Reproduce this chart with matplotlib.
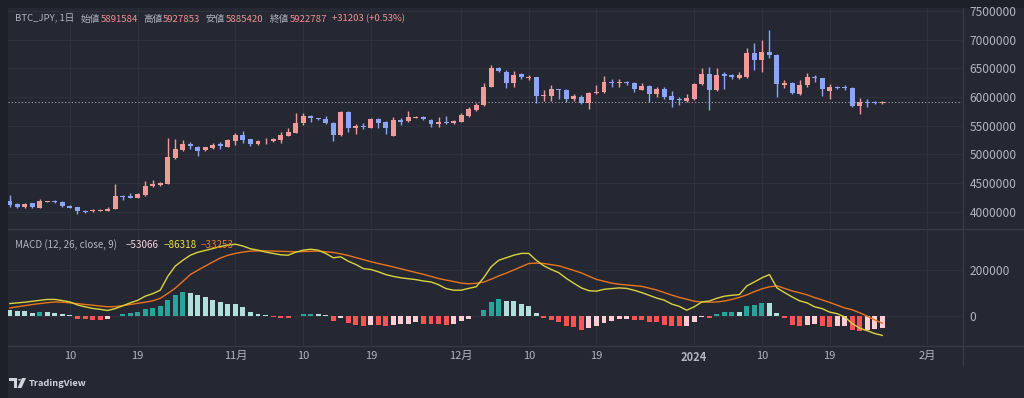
import numpy as np
import pandas as pd
import matplotlib
matplotlib.use("Agg")
import matplotlib.pyplot as plt
from matplotlib.patches import Rectangle, Polygon, Circle
from matplotlib.lines import Line2D

plt.rcParams['font.family'] = ['Noto Sans CJK JP', 'DejaVu Sans']

# ---------------- data ----------------
dates = pd.date_range('2023-10-02', '2024-01-26', freq='D')

opens = [4190000, 4143000, 4091000, 4149000, 4074000, 4172000, 4184000, 4172000, 4103000, 4080000,
         4016000, 4010000, 4016000, 4022000, 4051000, 4283000, 4271000, 4248000, 4294000, 4451000,
         4469000, 4486000, 4933000, 5078000, 5177000, 5137000, 5078000, 5113000, 5189000, 5137000,
         5241000, 5334000, 5264000, 5183000, 5229000, 5235000, 5253000, 5328000, 5380000, 5555000,
         5671000, 5630000, 5613000, 5543000, 5340000, 5746000, 5456000, 5497000, 5468000, 5613000,
         5560000, 5328000, 5601000, 5584000, 5642000, 5653000, 5601000, 5537000, 5572000, 5549000,
         5572000, 5676000, 5775000, 5862000, 6182000, 6513000, 6443000, 6240000, 6402000, 6338000,
         6344000, 6013000, 6025000, 6135000, 6124000, 5961000, 6008000, 5891000, 6066000, 6083000,
         6269000, 6240000, 6269000, 6246000, 6130000, 6199000, 6048000, 6141000, 6019000, 5967000,
         5932000, 5967000, 6223000, 6397000, 6124000, 6408000, 6385000, 6339000, 6356000, 6763000,
         6646000, 6792000, 6734000, 6211000, 6240000, 6054000, 6211000, 6356000, 6327000, 6112000,
         6170000, 6170000, 6159000, 5845000, 5920000, 5920000, 5891584]

highs = [4294000, 4150000, 4161000, 4161000, 4225000, 4196000, 4213000, 4184000, 4120000, 4091000,
         4033000, 4045000, 4051000, 4085000, 4492000, 4294000, 4323000, 4323000, 4538000, 4556000,
         4527000, 5293000, 5264000, 5253000, 5224000, 5148000, 5137000, 5195000, 5224000, 5264000,
         5380000, 5409000, 5276000, 5253000, 5282000, 5287000, 5398000, 5456000, 5729000, 5729000,
         5688000, 5642000, 5671000, 5572000, 5758000, 5758000, 5526000, 5543000, 5630000, 5630000,
         5584000, 5659000, 5630000, 5758000, 5671000, 5665000, 5613000, 5653000, 5676000, 5601000,
         5717000, 5833000, 5891000, 6240000, 6559000, 6530000, 6472000, 6455000, 6414000, 6385000,
         6356000, 6124000, 6211000, 6147000, 6135000, 6048000, 6037000, 6095000, 6211000, 6373000,
         6315000, 6315000, 6281000, 6257000, 6240000, 6211000, 6182000, 6182000, 6106000, 6008000,
         6048000, 6240000, 6513000, 6530000, 6501000, 6443000, 6397000, 6443000, 6850000, 6937000,
         6995000, 7169000, 6745000, 6298000, 6257000, 6298000, 6414000, 6385000, 6339000, 6228000,
         6193000, 6211000, 6170000, 5979000, 5961000, 5938000, 5927853]

lows = [4091000, 4062000, 4074000, 4074000, 4068000, 4167000, 4155000, 4085000, 4062000, 3969000,
        3981000, 3998000, 4010000, 4016000, 4045000, 4213000, 4236000, 4236000, 4283000, 4434000,
        4451000, 4480000, 4916000, 5067000, 5090000, 4974000, 5061000, 5102000, 5102000, 5125000,
        5166000, 5206000, 5148000, 5171000, 5183000, 5218000, 5195000, 5322000, 5369000, 5514000,
        5572000, 5601000, 5531000, 5230000, 5328000, 5386000, 5357000, 5444000, 5456000, 5468000,
        5351000, 5316000, 5514000, 5572000, 5630000, 5595000, 5485000, 5473000, 5526000, 5537000,
        5560000, 5659000, 5764000, 5851000, 6170000, 6432000, 6153000, 6182000, 6315000, 6298000,
        5891000, 5932000, 5932000, 5967000, 5920000, 5938000, 5874000, 5793000, 6048000, 6072000,
        6182000, 6182000, 6211000, 6083000, 6118000, 5920000, 6008000, 5967000, 5833000, 5862000,
        5921000, 5955000, 6211000, 5775000, 6112000, 6141000, 6315000, 6315000, 6327000, 6472000,
        6443000, 6676000, 6008000, 6153000, 6048000, 6037000, 6182000, 6269000, 6019000, 5961000,
        6135000, 6124000, 5833000, 5706000, 5833000, 5874000, 5885420]

closes = [4120000, 4091000, 4143000, 4080000, 4184000, 4184000, 4167000, 4097000, 4074000, 4016000,
          4004000, 4027000, 4033000, 4056000, 4277000, 4260000, 4248000, 4306000, 4457000, 4486000,
          4498000, 4962000, 5090000, 5183000, 5148000, 5067000, 5125000, 5171000, 5154000, 5253000,
          5346000, 5253000, 5183000, 5241000, 5241000, 5264000, 5340000, 5398000, 5555000, 5671000,
          5636000, 5613000, 5543000, 5345000, 5746000, 5456000, 5497000, 5479000, 5618000, 5543000,
          5456000, 5595000, 5572000, 5648000, 5659000, 5613000, 5537000, 5572000, 5555000, 5584000,
          5688000, 5787000, 5862000, 6182000, 6501000, 6455000, 6240000, 6385000, 6344000, 6356000,
          6025000, 6037000, 6135000, 6118000, 5961000, 6019000, 5891000, 6077000, 6095000, 6257000,
          6240000, 6269000, 6246000, 6141000, 6199000, 6048000, 6141000, 6008000, 5950000, 5944000,
          5979000, 6223000, 6397000, 6124000, 6385000, 6373000, 6350000, 6385000, 6763000, 6646000,
          6792000, 6734000, 6223000, 6252000, 6066000, 6211000, 6344000, 6327000, 6135000, 6170000,
          6159000, 6159000, 5845000, 5920000, 5903000, 5891000, 5922787]

# MACD (12, 26, close, 9) in thousands of JPY
hist_k = [23, 19, 19, 13, 14.5, 14, 13, 7, 1.5, -13,
          -16, -17.5, -19, -16, -4, 7, 11.6, 17.4, 27.5, 33,
          40.6, 66.7, 88, 101, 100, 91, 80, 68, 58, 52,
          48, 37.7, 16, 7.2, 1.5, -7.2, -10, -10, -3, 7,
          8.7, 7.2, 1.4, -24.6, -11.6, -32, -39, -43.5, -39, -42,
          -45, -39, -36, -35, -30, -35, -36, -36, -39, -35,
          -24.6, -16, -4, 23, 59, 74, 62, 62, 52, 42,
          11.6, -11.6, -20, -30, -45, -49, -61, -54, -46, -32,
          -22, -17, -13, -20, -21, -29, -30, -39, -45, -46,
          -45, -30, -5, -8.7, 7.2, 14.5, 16, 16, 42, 45,
          56.5, 55, 13, -10, -39, -46, -39, -38, -46, -48,
          -46, -45, -64, -65, -61, -59, -53.066]

macd_k = [52, 55, 58, 62, 66, 70, 70, 65, 59, 46,
          38, 31, 27, 22, 30, 42, 55, 66, 84, 95,
          110, 170, 215, 240, 262, 275, 283, 291, 300, 306,
          310, 302, 290, 284, 276, 270, 264, 262, 275, 284,
          288, 284, 270, 251, 255, 236, 222, 204, 200, 190,
          178, 170, 164, 160, 156, 150, 146, 134, 117, 110,
          110, 118, 125, 164, 212, 240, 251, 262, 270, 270,
          240, 216, 200, 186, 161, 140, 120, 108, 106, 114,
          117, 120, 118, 110, 100, 88, 76, 67, 50, 40,
          23, 38, 59, 63, 75, 84, 88, 91, 129, 146,
          164, 178, 120, 100, 81, 64, 55, 38, 30, 15,
          8, -6, -35, -55, -66, -78, -86.318]

signal_k = [33, 38, 43, 48, 52, 56, 59, 58, 55, 52,
            48, 45, 41, 38, 39, 43, 48, 53, 58, 64,
            75, 96, 119, 148, 178, 197, 215, 233, 250, 262,
            270, 276, 280, 281, 281, 280, 279, 278, 277, 278,
            279, 280, 277, 274, 268, 261, 252, 243, 234, 226,
            219, 211, 203, 195, 187, 179, 170, 161, 154, 148,
            141, 138, 140, 145, 158, 172, 184, 198, 212, 226,
            228, 226, 221, 216, 206, 196, 185, 171, 157, 149,
            141, 136, 133, 130, 127, 119, 111, 100, 89, 79,
            71, 62, 59, 58, 59, 63, 70, 79, 90, 104,
            116, 125, 129, 118, 107, 99, 90, 78, 68, 57,
            45, 33, 25, 12, -3, -19, -33.253]

tick_dates = ['2023-10-10', '2023-10-19', '2023-11-01', '2023-11-10', '2023-11-19', '2023-12-01',
              '2023-12-10', '2023-12-19', '2024-01-01', '2024-01-10', '2024-01-19', '2024-02-01']
tick_labels = ['10', '19', '11月', '10', '19', '12月', '10', '19', '2024', '10', '19', '2月']
price_ticks = [4000000, 4500000, 5000000, 5500000, 6000000, 6500000, 7000000, 7500000]
macd_ticks = [0, 200000]

# ---------------- style ----------------
W, H = 1024, 398
BG = '#252833'
BG_EDGE = '#1d2028'
GRID = '#2d313c'
SEP = '#363a45'
TXT = '#b2b5be'
UP = '#f29a9a'
DOWN = '#8aa6f5'
VAL = '#f09090'

def fx(x):
    return x / W

def fy(y):
    return 1 - y / H

fig = plt.figure(figsize=(W / 100, H / 100), dpi=100, facecolor=BG_EDGE)
fig.patches.append(Rectangle((fx(8), 0), 1 - fx(8), fy(8), transform=fig.transFigure,
                             facecolor=BG, edgecolor='none', zorder=-10))

ax = fig.add_axes([fx(8), fy(228), fx(962) - fx(8), fy(8) - fy(228)])
ax2 = fig.add_axes([fx(8), fy(345), fx(962) - fx(8), fy(229) - fy(345)])

x = np.asarray((dates - dates[0]).days, dtype=float)
tick_x = np.asarray((pd.to_datetime(tick_dates) - dates[0]).days, dtype=float)
xlim = (-0.24, 126.6)

o = np.array(opens, float)
h = np.array(highs, float)
l = np.array(lows, float)
c = np.array(closes, float)
up = c >= o
cols = np.where(up, UP, DOWN)

for a in (ax, ax2):
    a.set_facecolor(BG)
    for s in a.spines.values():
        s.set_visible(False)
    a.set_xlim(*xlim)
    a.set_xticks(tick_x)
    a.grid(True, color=GRID, linewidth=0.8)
    a.set_axisbelow(True)
    a.yaxis.tick_right()
    a.tick_params(axis='y', length=0, pad=5.5, labelsize=8.6, labelcolor=TXT)

# ---- price pane ----
ax.set_ylim(3719400, 7552266)
ax.set_yticks(price_ticks)
ax.set_yticklabels([str(v) for v in price_ticks])
ax.tick_params(axis='x', length=0, labelbottom=False)

body_bottom = np.minimum(o, c)
body_h = np.maximum(np.abs(c - o), 14000)
ax.vlines(x, l, h, colors=cols, linewidth=1.0, zorder=2)
ax.bar(x, body_h, bottom=body_bottom, width=0.66, color=cols, linewidth=0, zorder=3)
ax.axhline(c[-1], color='#a3a6af', linewidth=0.8, linestyle=(0, (1, 2)), zorder=1)

# ---- MACD pane ----
hist = np.array(hist_k) * 1000
macd = np.array(macd_k) * 1000
sig = np.array(signal_k) * 1000
hcols = []
for i, v in enumerate(hist):
    prev = hist[i - 1] if i > 0 else hist[i]
    if v >= 0:
        hcols.append('#26a69a' if v > prev else '#b2dfdb')
    else:
        hcols.append('#ffcdd2' if v > prev else '#ff5252')
ax2.set_ylim(-128000, 376000)
ax2.set_yticks(macd_ticks)
ax2.set_yticklabels([str(v) for v in macd_ticks])
ax2.bar(x, hist, width=0.66, color=hcols, linewidth=0, zorder=2)
ax2.plot(x, sig, color='#e8741c', linewidth=1.0, zorder=3)
ax2.plot(x, macd, color='#d9d43c', linewidth=1.0, zorder=4)
ax2.set_xticklabels(tick_labels)
ax2.tick_params(axis='x', length=0, pad=4.5, labelsize=8, labelcolor=TXT)
for lab in ax2.get_xticklabels():
    if lab.get_text() == '2024':
        lab.set_fontweight('bold')

# separators
fig.add_artist(Line2D([fx(8), 1], [fy(228.5), fy(228.5)], transform=fig.transFigure, color=SEP, linewidth=1.0))
fig.add_artist(Line2D([fx(8), 1], [fy(345.5), fy(345.5)], transform=fig.transFigure, color=SEP, linewidth=1.0))
fig.add_artist(Line2D([fx(962.5), fx(962.5)], [fy(8), fy(365)], transform=fig.transFigure, color=SEP, linewidth=1.0))

# ---- header texts ----
hdr = [('BTC_JPY, 1日', 15, TXT), ('始値', 81, TXT), ('5891584', 101, VAL), ('高値', 143, TXT),
       ('5927853', 163, VAL), ('安値', 206, TXT), ('5885420', 226, VAL), ('終値', 270, TXT),
       ('5922787', 290, VAL), ('+31203 (+0.53%)', 332, VAL)]
for s, px, col in hdr:
    fig.text(fx(px), fy(19), s, color=col, fontsize=6.9, va='center', ha='left')

mlab = [('MACD (12, 26, close, 9)', 15, TXT), ('−53066', 126, '#f7d3d8'),
        ('−86318', 164, '#f0e442'), ('−33253', 201, '#f07a22')]
for s, px, col in mlab:
    fig.text(fx(px), fy(245), s, color=col, fontsize=7.1, va='center', ha='left')

# ---- TradingView logo ----
tv = '#d1d4dc'
fig.patches.append(Polygon([(fx(9), fy(378)), (fx(17), fy(378)), (fx(17), fy(388)), (fx(14), fy(388)),
                            (fx(14), fy(381)), (fx(9), fy(381))], closed=True,
                           transform=fig.transFigure, facecolor=tv, edgecolor='none'))
fig.patches.append(Circle((fx(19.5), fy(379.8)), 1.7 / W, transform=fig.transFigure,
                          facecolor=tv, edgecolor='none'))
fig.patches.append(Polygon([(fx(22), fy(378)), (fx(26), fy(378)), (fx(21.5), fy(388)), (fx(17.5), fy(388))],
                           closed=True, transform=fig.transFigure, facecolor=tv, edgecolor='none'))
fig.text(fx(28.5), fy(383), 'TradingView', color=tv, fontsize=6.7, fontweight='bold', va='center', ha='left')

fig.savefig('out.png', dpi=100, facecolor=fig.get_facecolor())
